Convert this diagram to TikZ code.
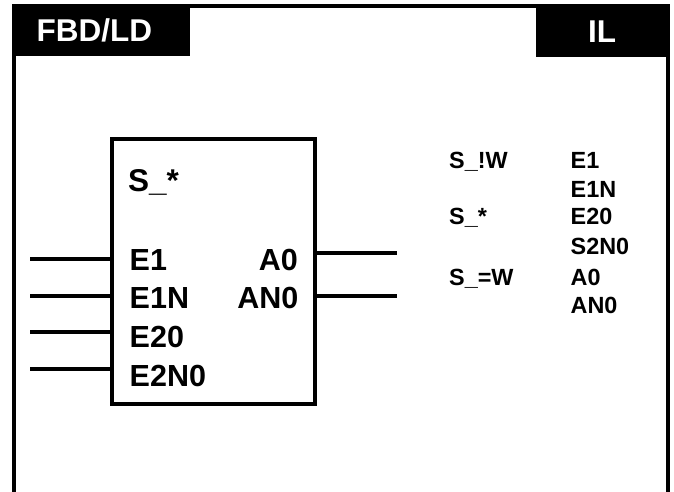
\documentclass[tikz,border=0pt]{standalone}
\usepackage{fontspec}
\setmainfont{Liberation Sans}
\tikzset{x=1pt,y=-1pt,
 ln/.style={line width=4pt,black},
 big/.style={font=\bfseries\fontsize{30.5}{32}\selectfont,inner sep=0pt,anchor=base west},
 bigr/.style={font=\bfseries\fontsize{30.5}{32}\selectfont,inner sep=0pt,anchor=base east},
 head/.style={font=\bfseries\fontsize{31.5}{34}\selectfont,inner sep=0pt,anchor=base west},
 small/.style={font=\bfseries\fontsize{23.4}{25}\selectfont,inner sep=0pt,anchor=base west}}
\begin{document}
\begin{tikzpicture}
\useasboundingbox (0,0) rectangle (674,492);
\fill[white] (0,0) rectangle (674,492);
\draw[ln] (13.7,492) -- (13.7,5.7) -- (667.5,5.7) -- (667.5,492);
\fill[black] (11.7,4) rectangle (190,55.7);
\fill[black] (536,4) rectangle (669.5,57.3);
\node[head,white] (fbd) at (36.5,41.7) {FBD/LD};
\node[head,white] (il) at (588,42.5) {IL};
\node[draw,ln,outer sep=0pt,minimum width=203.2pt,minimum height=264.8pt,anchor=north west] (blk) at (111.5,139.2) {};
\node[head] (s) at (128,191.7) {S\_*};
\node[big] (e1) at (129.5,270) {E1};
\node[big] (e1n) at (129.5,308.7) {E1N};
\node[big] (e20) at (129.5,347.7) {E20};
\node[big] (e2n0) at (129.5,386.7) {E2N0};
\node[bigr] (a0) at (298,270) {A0};
\node[bigr] (an0) at (298.5,308.7) {AN0};
\coordinate (i1) at (30,259);
\coordinate (i2) at (30,295.7);
\coordinate (i3) at (30,332.3);
\coordinate (i4) at (30,369);
\coordinate (o1) at (397,253);
\coordinate (o2) at (397,295.7);
\draw[ln] (i1) -- (i1-|blk.west);
\draw[ln] (i2) -- (i2-|blk.west);
\draw[ln] (i3) -- (i3-|blk.west);
\draw[ln] (i4) -- (i4-|blk.west);
\draw[ln] (o1-|blk.east) -- (o1);
\draw[ln] (o2-|blk.east) -- (o2);
\node[small] (t1) at (449,168) {S\_!W};
\node[small] (t2) at (449,224) {S\_*};
\node[small] (t3) at (449,285) {S\_=W};
\node[small] (c1) at (570.5,168) {E1};
\node[small] (c2) at (570.5,197) {E1N};
\node[small] (c3) at (570.5,224) {E20};
\node[small] (c4) at (570.5,254) {S2N0};
\node[small] (c5) at (570.5,285) {A0};
\node[small] (c6) at (570.5,313) {AN0};
\end{tikzpicture}
\end{document}
